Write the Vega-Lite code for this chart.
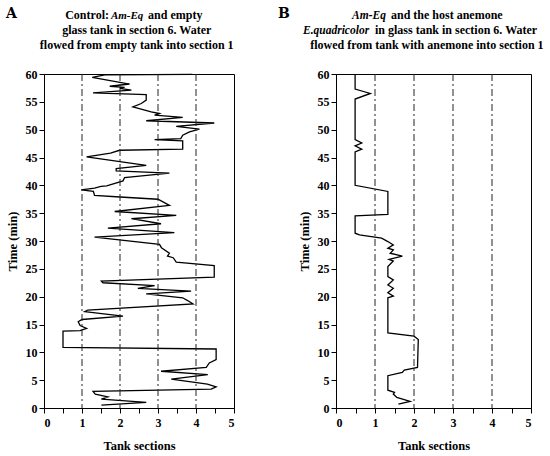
{
  "$schema": "https://vega.github.io/schema/vega-lite/v6.json",
  "padding": {"left": 5, "top": 6, "right": 2, "bottom": 0},
  "background": "white",
  "config": {
    "font": "Liberation Serif",
    "view": {"stroke": "black", "strokeWidth": 1},
    "text": {"font": "Liberation Serif"},
    "axis": {
      "grid": false,
      "domainColor": "black",
      "tickColor": "black",
      "labelColor": "black",
      "titleColor": "black",
      "labelFont": "Liberation Serif",
      "titleFont": "Liberation Serif",
      "labelFontWeight": "bold",
      "titleFontWeight": "bold",
      "labelFontSize": 12,
      "titleFontSize": 12.5,
      "labelOverlap": false,
      "tickSize": 5
    }
  },
  "datasets": {
    "traceA": [
      {"i": 1, "x": 1.51, "t": 0.5}, {"i": 2, "x": 2.69, "t": 1.0}, {"i": 3, "x": 1.51, "t": 1.6},
      {"i": 4, "x": 1.68, "t": 2.0}, {"i": 5, "x": 1.35, "t": 2.5}, {"i": 6, "x": 1.29, "t": 3.0},
      {"i": 7, "x": 4.4, "t": 3.4}, {"i": 8, "x": 4.53, "t": 3.8}, {"i": 9, "x": 4.3, "t": 4.3},
      {"i": 10, "x": 3.35, "t": 5.2}, {"i": 11, "x": 4.31, "t": 6.0}, {"i": 12, "x": 3.08, "t": 6.6},
      {"i": 13, "x": 4.27, "t": 7.3}, {"i": 14, "x": 4.35, "t": 8.1}, {"i": 15, "x": 4.53, "t": 8.7},
      {"i": 16, "x": 4.53, "t": 10.6}, {"i": 17, "x": 0.5, "t": 10.9}, {"i": 18, "x": 0.5, "t": 13.8},
      {"i": 19, "x": 0.95, "t": 13.9}, {"i": 20, "x": 1.12, "t": 14.3}, {"i": 21, "x": 0.95, "t": 14.8},
      {"i": 22, "x": 0.9, "t": 15.5}, {"i": 23, "x": 1.0, "t": 15.9}, {"i": 24, "x": 2.08, "t": 16.5},
      {"i": 25, "x": 1.07, "t": 17.3}, {"i": 26, "x": 1.15, "t": 17.6}, {"i": 27, "x": 3.92, "t": 18.7},
      {"i": 28, "x": 3.78, "t": 19.3}, {"i": 29, "x": 3.65, "t": 19.8}, {"i": 30, "x": 2.69, "t": 20.5},
      {"i": 31, "x": 3.87, "t": 21.0}, {"i": 32, "x": 2.47, "t": 21.5}, {"i": 33, "x": 2.91, "t": 22.0},
      {"i": 34, "x": 1.55, "t": 22.5}, {"i": 35, "x": 1.51, "t": 22.8}, {"i": 36, "x": 4.48, "t": 23.5},
      {"i": 37, "x": 4.48, "t": 25.6}, {"i": 38, "x": 3.48, "t": 26.2}, {"i": 39, "x": 3.4, "t": 27.0},
      {"i": 40, "x": 3.25, "t": 27.3}, {"i": 41, "x": 3.3, "t": 27.8}, {"i": 42, "x": 3.09, "t": 28.8},
      {"i": 43, "x": 3.04, "t": 29.4}, {"i": 45, "x": 1.33, "t": 30.7}, {"i": 46, "x": 3.43, "t": 31.5},
      {"i": 47, "x": 1.68, "t": 32.3}, {"i": 48, "x": 3.08, "t": 33.1}, {"i": 49, "x": 2.3, "t": 34.0},
      {"i": 50, "x": 3.48, "t": 34.6}, {"i": 51, "x": 1.86, "t": 35.3}, {"i": 52, "x": 3.3, "t": 36.4},
      {"i": 53, "x": 3.0, "t": 37.5}, {"i": 54, "x": 2.0, "t": 37.9}, {"i": 55, "x": 1.33, "t": 38.2},
      {"i": 56, "x": 1.3, "t": 38.9}, {"i": 57, "x": 0.98, "t": 39.2}, {"i": 58, "x": 1.33, "t": 39.5},
      {"i": 59, "x": 1.5, "t": 39.8}, {"i": 60, "x": 1.65, "t": 39.9}, {"i": 61, "x": 2.08, "t": 40.8},
      {"i": 62, "x": 2.12, "t": 41.4}, {"i": 63, "x": 3.3, "t": 42.2}, {"i": 64, "x": 1.9, "t": 42.6},
      {"i": 65, "x": 1.9, "t": 43.0}, {"i": 66, "x": 2.69, "t": 43.6}, {"i": 67, "x": 1.12, "t": 45.1},
      {"i": 68, "x": 1.75, "t": 45.8}, {"i": 69, "x": 1.99, "t": 46.3}, {"i": 70, "x": 3.65, "t": 46.5},
      {"i": 71, "x": 3.65, "t": 48.0}, {"i": 72, "x": 2.91, "t": 48.2}, {"i": 73, "x": 3.6, "t": 48.4},
      {"i": 74, "x": 3.65, "t": 49.0}, {"i": 75, "x": 3.83, "t": 49.6}, {"i": 76, "x": 4.09, "t": 50.1},
      {"i": 77, "x": 3.48, "t": 50.6}, {"i": 78, "x": 4.48, "t": 51.2}, {"i": 79, "x": 2.69, "t": 51.6},
      {"i": 80, "x": 3.65, "t": 52.2}, {"i": 81, "x": 2.91, "t": 52.6}, {"i": 82, "x": 3.04, "t": 52.9},
      {"i": 83, "x": 2.82, "t": 53.2}, {"i": 84, "x": 2.34, "t": 54.1}, {"i": 85, "x": 2.56, "t": 54.7},
      {"i": 86, "x": 2.69, "t": 55.3}, {"i": 87, "x": 2.69, "t": 56.3}, {"i": 88, "x": 1.29, "t": 56.6},
      {"i": 89, "x": 2.3, "t": 57.1}, {"i": 90, "x": 1.99, "t": 57.4}, {"i": 91, "x": 2.12, "t": 57.6},
      {"i": 92, "x": 1.73, "t": 57.8}, {"i": 93, "x": 2.25, "t": 58.2}, {"i": 94, "x": 1.27, "t": 59.4},
      {"i": 95, "x": 1.6, "t": 59.85}, {"i": 96, "x": 3.9, "t": 59.95}
    ],
    "traceB": [
      {"i": 1, "x": 1.6, "t": 0.7}, {"i": 2, "x": 1.9, "t": 1.2}, {"i": 3, "x": 1.56, "t": 1.9},
      {"i": 4, "x": 1.47, "t": 2.5}, {"i": 5, "x": 1.5, "t": 2.8}, {"i": 6, "x": 1.33, "t": 3.2},
      {"i": 7, "x": 1.33, "t": 5.8}, {"i": 8, "x": 1.7, "t": 6.4}, {"i": 9, "x": 1.75, "t": 6.8},
      {"i": 10, "x": 2.09, "t": 7.3}, {"i": 11, "x": 2.11, "t": 12.3}, {"i": 12, "x": 2.0, "t": 12.9},
      {"i": 13, "x": 1.33, "t": 13.5}, {"i": 14, "x": 1.33, "t": 19.8}, {"i": 15, "x": 1.47, "t": 20.1},
      {"i": 16, "x": 1.33, "t": 20.7}, {"i": 17, "x": 1.47, "t": 21.5}, {"i": 18, "x": 1.33, "t": 22.1},
      {"i": 19, "x": 1.47, "t": 23.0}, {"i": 20, "x": 1.33, "t": 23.6}, {"i": 21, "x": 1.33, "t": 25.4},
      {"i": 22, "x": 1.47, "t": 26.4}, {"i": 23, "x": 1.36, "t": 26.7}, {"i": 24, "x": 1.7, "t": 27.3},
      {"i": 25, "x": 1.39, "t": 27.8}, {"i": 26, "x": 1.47, "t": 28.4}, {"i": 27, "x": 1.33, "t": 28.7},
      {"i": 28, "x": 1.47, "t": 29.3}, {"i": 29, "x": 1.33, "t": 29.9}, {"i": 30, "x": 1.17, "t": 30.5},
      {"i": 31, "x": 0.6, "t": 31.1}, {"i": 32, "x": 0.49, "t": 31.4}, {"i": 33, "x": 0.49, "t": 34.5},
      {"i": 34, "x": 1.33, "t": 34.8}, {"i": 35, "x": 1.33, "t": 38.9}, {"i": 36, "x": 0.49, "t": 40.0},
      {"i": 37, "x": 0.49, "t": 46.0}, {"i": 38, "x": 0.66, "t": 46.5}, {"i": 39, "x": 0.49, "t": 47.1},
      {"i": 40, "x": 0.66, "t": 47.6}, {"i": 41, "x": 0.49, "t": 48.2}, {"i": 42, "x": 0.49, "t": 55.5},
      {"i": 43, "x": 0.88, "t": 56.5}, {"i": 44, "x": 0.49, "t": 57.3}, {"i": 45, "x": 0.49, "t": 60}
    ],
    "sections": [{"s": 1}, {"s": 2}, {"s": 3}, {"s": 4}]
  },
  "spacing": 42,
  "hconcat": [
    {
      "width": 190,
      "height": 334,
      "layer": [
        {
          "data": {"name": "traceA"},
          "mark": {"type": "line", "color": "black", "strokeWidth": 1.3},
          "encoding": {
            "order": {"field": "i", "type": "quantitative"},
            "x": {"field": "x", "type": "quantitative", "scale": {"domain": [0, 5], "nice": false},
                  "axis": {"title": "Tank sections", "labelOverlap": false, "values": [0, 0.5, 1, 1.5, 2, 2.5, 3, 3.5, 4, 4.5, 5], "labelExpr": "datum.value % 1 === 0 ? '' + datum.value : ''", "titlePadding": 11, "labelPadding": 4}},
            "y": {"field": "t", "type": "quantitative", "scale": {"domain": [0, 60], "nice": false},
                  "axis": {"title": "Time (min)", "labelOverlap": false, "values": [0, 5, 10, 15, 20, 25, 30, 35, 40, 45, 50, 55, 60], "titlePadding": 6}}
          }
        },
        {
          "data": {"name": "sections"},
          "mark": {"type": "rule", "color": "#222", "strokeWidth": 1, "strokeDash": [7, 3, 2, 3]},
          "encoding": {"x": {"field": "s", "type": "quantitative",
            "axis": {"title": "Tank sections", "labelOverlap": false, "values": [0, 0.5, 1, 1.5, 2, 2.5, 3, 3.5, 4, 4.5, 5], "labelExpr": "datum.value % 1 === 0 ? '' + datum.value : ''", "titlePadding": 11, "labelPadding": 4}}}
        },
        {
          "data": {"values": [{"h": "A", "a": "Control:", "b": "Am-Eq", "c": "and empty", "d": "glass tank  in section 6. Water", "e": "flowed from empty tank into section 1"}]},
          "encoding": {
            "x": {"datum": 2.44, "axis": {"title": "Tank sections", "labelOverlap": false, "values": [0, 0.5, 1, 1.5, 2, 2.5, 3, 3.5, 4, 4.5, 5], "labelExpr": "datum.value % 1 === 0 ? '' + datum.value : ''", "titlePadding": 11, "labelPadding": 4}},
            "y": {"datum": 64.5, "axis": {"title": "Time (min)", "labelOverlap": false, "values": [0, 5, 10, 15, 20, 25, 30, 35, 40, 45, 50, 55, 60], "titlePadding": 6}}
          },
          "layer": [
            {"mark": {"type": "text", "align": "left", "baseline": "alphabetic", "fontSize": 14, "fontWeight": "bold", "font": "DejaVu Serif"},
             "encoding": {"x": {"datum": -1.0}, "y": {"datum": 70.0}, "text": {"field": "h"}}},
            {"mark": {"type": "text", "align": "right", "baseline": "alphabetic", "fontSize": 12, "fontWeight": "bold"},
             "encoding": {"x": {"datum": 1.71}, "y": {"datum": 69.9}, "text": {"field": "a"}}},
            {"mark": {"type": "text", "align": "left", "baseline": "alphabetic", "fontSize": 11, "fontWeight": "bold", "fontStyle": "italic"},
             "encoding": {"x": {"datum": 1.76}, "y": {"datum": 69.9}, "text": {"field": "b"}}},
            {"mark": {"type": "text", "align": "left", "baseline": "alphabetic", "fontSize": 12, "fontWeight": "bold"},
             "encoding": {"x": {"datum": 2.74}, "y": {"datum": 69.9}, "text": {"field": "c"}}},
            {"mark": {"type": "text", "align": "center", "baseline": "alphabetic", "fontSize": 12, "fontWeight": "bold"},
             "encoding": {"x": {"datum": 2.44}, "y": {"datum": 67.2}, "text": {"field": "d"}}},
            {"mark": {"type": "text", "align": "center", "baseline": "alphabetic", "fontSize": 12, "fontWeight": "bold"},
             "encoding": {"x": {"datum": 2.44}, "y": {"datum": 64.5}, "text": {"field": "e"}}}
          ]
        }
      ]
    },
    {
      "width": 195,
      "height": 334,
      "layer": [
        {
          "data": {"name": "traceB"},
          "mark": {"type": "line", "color": "black", "strokeWidth": 1.3},
          "encoding": {
            "order": {"field": "i", "type": "quantitative"},
            "x": {"field": "x", "type": "quantitative", "scale": {"domain": [0, 5], "nice": false},
                  "axis": {"title": "Tank sections", "labelOverlap": false, "values": [0, 0.5, 1, 1.5, 2, 2.5, 3, 3.5, 4, 4.5, 5], "labelExpr": "datum.value % 1 === 0 ? '' + datum.value : ''", "titlePadding": 11, "labelPadding": 4}},
            "y": {"field": "t", "type": "quantitative", "scale": {"domain": [0, 60], "nice": false},
                  "axis": {"title": "Time (min)", "labelOverlap": false, "values": [0, 5, 10, 15, 20, 25, 30, 35, 40, 45, 50, 55, 60], "titlePadding": 6}}
          }
        },
        {
          "data": {"name": "sections"},
          "mark": {"type": "rule", "color": "#222", "strokeWidth": 1, "strokeDash": [7, 3, 2, 3]},
          "encoding": {"x": {"field": "s", "type": "quantitative",
            "axis": {"title": "Tank sections", "labelOverlap": false, "values": [0, 0.5, 1, 1.5, 2, 2.5, 3, 3.5, 4, 4.5, 5], "labelExpr": "datum.value % 1 === 0 ? '' + datum.value : ''", "titlePadding": 11, "labelPadding": 4}}}
        },
        {
          "data": {"values": [{"h": "B", "a": "Am-Eq", "b": "and the host anemone", "c": "E.quadricolor", "d": "in glass tank in section 6. Water", "e": "flowed from tank  with anemone into section 1"}]},
          "encoding": {
            "x": {"datum": 2.33, "axis": {"title": "Tank sections", "labelOverlap": false, "values": [0, 0.5, 1, 1.5, 2, 2.5, 3, 3.5, 4, 4.5, 5], "labelExpr": "datum.value % 1 === 0 ? '' + datum.value : ''", "titlePadding": 11, "labelPadding": 4}},
            "y": {"datum": 64.5, "axis": {"title": "Time (min)", "labelOverlap": false, "values": [0, 5, 10, 15, 20, 25, 30, 35, 40, 45, 50, 55, 60], "titlePadding": 6}}
          },
          "layer": [
            {"mark": {"type": "text", "align": "left", "baseline": "alphabetic", "fontSize": 14, "fontWeight": "bold", "font": "DejaVu Serif"},
             "encoding": {"x": {"datum": -1.49}, "y": {"datum": 70.0}, "text": {"field": "h"}}},
            {"mark": {"type": "text", "align": "right", "baseline": "alphabetic", "fontSize": 11.5, "fontWeight": "bold", "fontStyle": "italic"},
             "encoding": {"x": {"datum": 1.28}, "y": {"datum": 69.9}, "text": {"field": "a"}}},
            {"mark": {"type": "text", "align": "left", "baseline": "alphabetic", "fontSize": 12, "fontWeight": "bold"},
             "encoding": {"x": {"datum": 1.41}, "y": {"datum": 69.9}, "text": {"field": "b"}}},
            {"mark": {"type": "text", "align": "right", "baseline": "alphabetic", "fontSize": 11.5, "fontWeight": "bold", "fontStyle": "italic"},
             "encoding": {"x": {"datum": 0.85}, "y": {"datum": 67.2}, "text": {"field": "c"}}},
            {"mark": {"type": "text", "align": "left", "baseline": "alphabetic", "fontSize": 12, "fontWeight": "bold"},
             "encoding": {"x": {"datum": 1.0}, "y": {"datum": 67.2}, "text": {"field": "d"}}},
            {"mark": {"type": "text", "align": "center", "baseline": "alphabetic", "fontSize": 12, "fontWeight": "bold"},
             "encoding": {"x": {"datum": 2.33}, "y": {"datum": 64.5}, "text": {"field": "e"}}}
          ]
        }
      ]
    }
  ]
}
